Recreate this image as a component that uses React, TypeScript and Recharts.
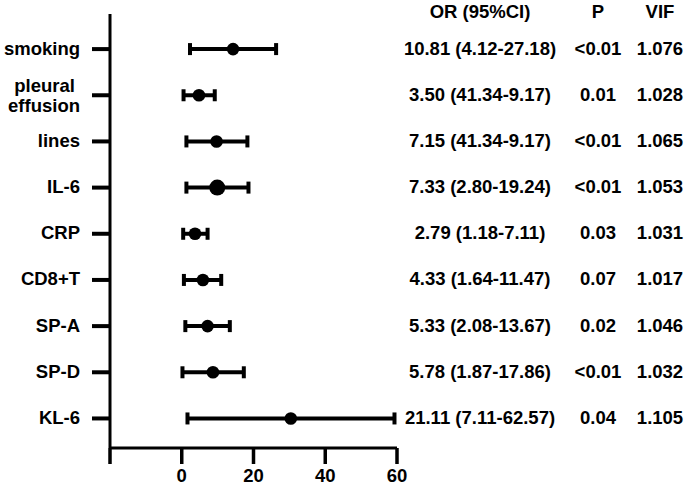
import {
  ScatterChart,
  Scatter,
  XAxis,
  YAxis,
  ErrorBar,
} from "recharts";

const names = [
  "smoking",
  "pleural effusion",
  "lines",
  "IL-6",
  "CRP",
  "CD8+T",
  "SP-A",
  "SP-D",
  "KL-6",
];
const orPoint = [14.3, 4.8, 9.7, 9.9, 3.7, 5.9, 7.2, 8.7, 30.4];
const ciLow = [2.3, 0.5, 1.3, 1.3, 0.4, 0.6, 1.0, 0.2, 1.6];
const ciHigh = [26.3, 9.2, 18.3, 18.6, 7.2, 11.0, 13.4, 17.3, 59.3];

const orText = [
  "10.81 (4.12-27.18)",
  "3.50 (41.34-9.17)",
  "7.15 (41.34-9.17)",
  "7.33 (2.80-19.24)",
  "2.79 (1.18-7.11)",
  "4.33 (1.64-11.47)",
  "5.33 (2.08-13.67)",
  "5.78 (1.87-17.86)",
  "21.11 (7.11-62.57)",
];
const pText = ["<0.01", "0.01", "<0.01", "<0.01", "0.03", "0.07", "0.02", "<0.01", "0.04"];
const vifText = ["1.076", "1.028", "1.065", "1.053", "1.031", "1.017", "1.046", "1.032", "1.105"];
const headers = ["OR (95%CI)", "P", "VIF"];

const xTicks = [-20, 0, 20, 40, 60];
const rowTicks = names.map((_, i) => i);

const data = names.map((name, i) => ({
  name,
  row: i,
  or: orPoint[i],
  err: [orPoint[i] - ciLow[i], ciHigh[i] - orPoint[i]],
}));

const FONT = "'Liberation Sans', Arial, Helvetica, sans-serif";
const FS = 18.5;
const BIG_DOT = "IL-6";

function LeftTick({ x, y, payload }: any) {
  const label = names[payload.value] ?? "";
  const common = {
    fontFamily: FONT,
    fontSize: FS,
    fontWeight: 700,
    fill: "#000",
    textAnchor: "end" as const,
  };
  if (label === "pleural effusion") {
    return (
      <text x={x} y={y} {...common}>
        <tspan x={x} dy="-0.2em" style={{ whiteSpace: "pre" }}>{"pleural\u00A0"}</tspan>
        <tspan x={x} dy="1.08em">effusion</tspan>
      </text>
    );
  }
  return (
    <text x={x} y={y} dy="0.3em" {...common}>
      {label}
    </text>
  );
}

function RightTick({ x, y, payload }: any) {
  const i = payload.value;
  const cols = [83, 201, 263];
  const vals = [orText[i], pText[i], vifText[i]];
  const common = {
    fontFamily: FONT,
    fontSize: FS,
    fontWeight: 700,
    fill: "#000",
    textAnchor: "middle" as const,
  };
  return (
    <g>
      {i === 0 &&
        headers.map((h, k) => (
          <text key={"h" + k} x={x + cols[k]} y={y - 36.5} dy="0.3em" {...common}>
            {h}
          </text>
        ))}
      {vals.map((v, k) => (
        <text key={k} x={x + cols[k]} y={y} dy="0.3em" {...common}>
          {v}
        </text>
      ))}
    </g>
  );
}

function Dot({ cx, cy, payload }: any) {
  const r = payload.name === BIG_DOT ? 8 : 6.3;
  return <circle cx={cx} cy={cy} r={r} fill="#000" />;
}

export default function App() {
  return (
    <div style={{ position: "absolute", left: 0, top: 0, background: "#fff" }}>
      <ScatterChart
        width={685}
        height={486}
        margin={{ top: 14, right: 0, bottom: 0, left: 0 }}
      >
        <XAxis
          type="number"
          dataKey="or"
          domain={[-20, 60]}
          ticks={xTicks}
          allowDataOverflow
          height={38}
          tickSize={16}
          tickMargin={5}
          interval={0}
          tickFormatter={(v: number) => (v === -20 ? "" : String(v))}
          axisLine={{ stroke: "#000", strokeWidth: 3 }}
          tickLine={{ stroke: "#000", strokeWidth: 3.5 }}
          tick={{ fill: "#000", fontFamily: FONT, fontSize: FS, fontWeight: 700 }}
        />
        <YAxis
          yAxisId="left"
          type="number"
          dataKey="row"
          domain={[-0.76, 8.64]}
          reversed
          allowDataOverflow
          ticks={rowTicks}
          interval={0}
          width={110}
          tickSize={18}
          tickMargin={12}
          axisLine={{ stroke: "#000", strokeWidth: 3 }}
          tickLine={{ stroke: "#000", strokeWidth: 4 }}
          tick={<LeftTick />}
        />
        <YAxis
          yAxisId="right"
          orientation="right"
          type="number"
          domain={[-0.76, 8.64]}
          reversed
          allowDataOverflow
          ticks={rowTicks}
          interval={0}
          width={288}
          tickSize={0}
          tickMargin={0}
          axisLine={false}
          tickLine={false}
          tick={<RightTick />}
        />
        <Scatter
          yAxisId="left"
          data={data}
          shape={<Dot />}
          isAnimationActive={false}
        >
          <ErrorBar
            dataKey="err"
            direction="x"
            width={6}
            strokeWidth={4}
            stroke="#000"
            isAnimationActive={false}
          />
        </Scatter>
      </ScatterChart>
    </div>
  );
}
